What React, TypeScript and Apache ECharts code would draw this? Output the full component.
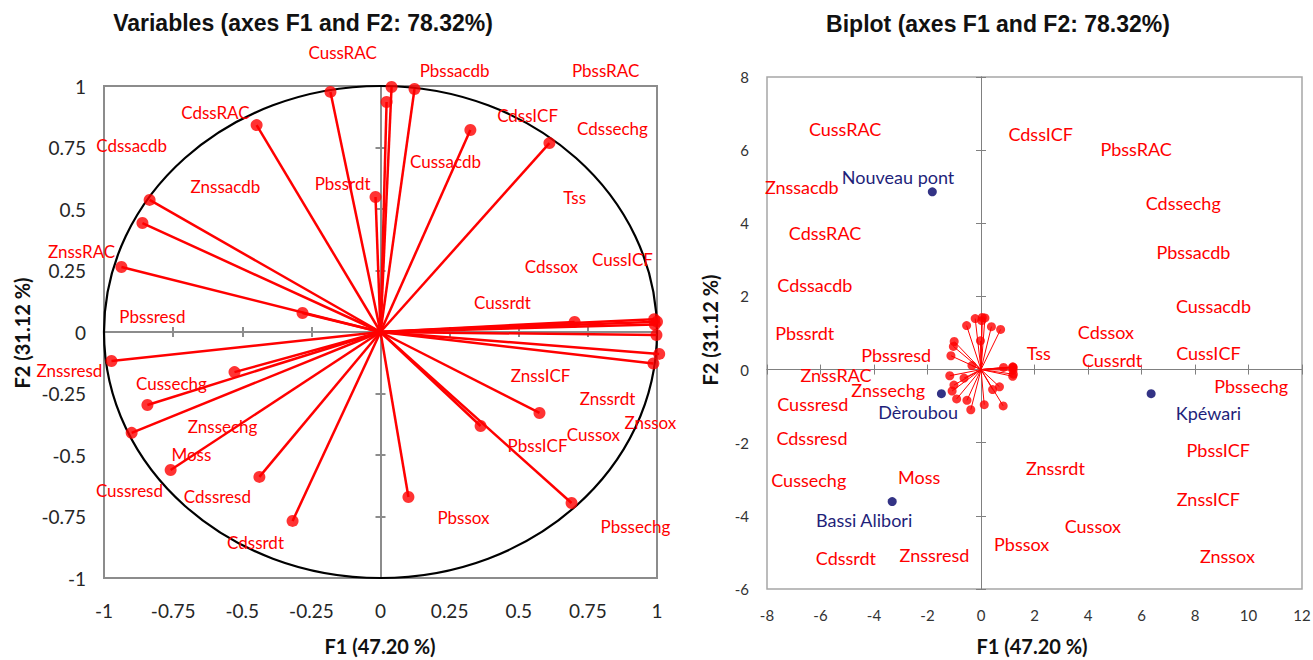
import React, { useEffect, useRef } from "react";
import * as echarts from "echarts";

// ---------- data ----------
const variableNames = [
  "CussRAC", "Pbssacdb", "PbssRAC", "CdssRAC", "Cdssacdb", "CdssICF", "Cdssechg", "Cussacdb",
  "Znssacdb", "Pbssrdt", "Tss", "ZnssRAC", "CussICF", "Cdssox", "Pbssresd", "Cussrdt",
  "Znssresd", "Cussechg", "ZnssICF", "Znssrdt", "Znssechg", "Znssox", "Cussox", "PbssICF",
  "Moss", "Cussresd", "Cdssresd", "Pbssechg", "Pbssox", "Cdssrdt",
];
// label anchors in the correlation circle
const circleLabelF1 = [
  -0.137, 0.268, 0.814, -0.597, -0.9, 0.532, 0.839, 0.235,
  -0.561, -0.137, 0.702, -1.081, 0.875, 0.618, -0.825, 0.441,
  -1.125, -0.756, 0.579, 0.821, -0.571, 0.976, 0.77, 0.568,
  -0.684, -0.908, -0.59, 0.922, 0.3, -0.452,
];
const circleLabelF2 = [
  1.138, 1.061, 1.065, 0.894, 0.76, 0.882, 0.829, 0.695,
  0.593, 0.602, 0.545, 0.329, 0.293, 0.268, 0.065, 0.118,
  -0.155, -0.211, -0.175, -0.272, -0.386, -0.366, -0.415, -0.463,
  -0.496, -0.646, -0.667, -0.789, -0.756, -0.854,
];
// label anchors in the biplot
const biplotLabelF1 = [
  -5.08, 7.94, 5.8, -5.83, -6.21, 2.23, 7.56, 8.69,
  -6.7, -6.59, 2.16, -5.42, 8.5, 4.67, -3.17, 4.9,
  -1.74, -6.44, 8.5, 2.78, -3.47, 9.21, 4.18, 8.87,
  -2.31, -6.29, -6.32, 10.1, 1.52, -5.05,
];
const biplotLabelF2 = [
  6.58, 3.22, 6.04, 3.74, 2.3, 6.45, 4.56, 1.75,
  5.0, 1.01, 0.44, -0.16, 0.46, 1.04, 0.41, 0.27,
  -5.08, -3.01, -3.55, -2.7, -0.57, -5.11, -4.29, -2.21,
  -2.95, -0.93, -1.86, -0.44, -4.78, -5.14,
];
// variable vectors (correlations with F1 / F2)
const loadingF1 = [
  -0.181, 0.04, 0.022, 0.123, 0.325, 0.611, -0.448, -0.018,
  -0.835, -0.861, -0.937, -0.282, -0.973, -0.528, -0.843, -0.9,
  -0.759, -0.438, -0.318, 0.101, 0.362, 0.575, 0.691, 0.702,
  0.99, 1.0, 0.992, 0.998, 1.008, 0.987,
];
const loadingF2 = [
  0.976, 0.996, 0.935, 0.988, 0.821, 0.768, 0.841, 0.549,
  0.537, 0.443, 0.264, 0.077, -0.118, -0.163, -0.297, -0.41,
  -0.561, -0.589, -0.768, -0.671, -0.382, -0.329, -0.695, 0.041,
  0.052, 0.042, 0.03, -0.012, -0.089, -0.128,
];
// biplot scaling coefficients of the vectors
const biplotScaleF1 = 1.2;
const biplotScaleF2 = 1.43;

const observationNames = ["Nouveau pont", "Dèroubou", "Kpéwari", "Bassi Alibori"];
const observationF1 = [-1.82, -1.48, 6.36, -3.32];
const observationF2 = [4.86, -0.66, -0.66, -3.61];
const observationLabelF1 = [-3.1, -2.35, 8.5, -4.37];
const observationLabelF2 = [5.27, -1.15, -1.2, -4.1];

const circleAxis = { min: -1, max: 1, interval: 0.25 };
const biplotAxisF1 = { min: -8, max: 12, interval: 2 };
const biplotAxisF2 = { min: -6, max: 8, interval: 2 };

const titleLeft = "Variables (axes F1 and F2: 78.32%)";
const titleRight = "Biplot (axes F1 and F2: 78.32%)";
const nameF1 = "F1 (47.20 %)";
const nameF2 = "F2 (31.12 %)";

// ---------- helpers ----------
const FONT = "Lato, 'Noto Sans', sans-serif";
const TITLE_FONT = "'Liberation Sans', Arial, sans-serif";

function labelAxis(gridIndex: number, r: any, fontSize: number, margin: number, color: string) {
  return {
    type: "value",
    gridIndex,
    min: r.min,
    max: r.max,
    interval: r.interval,
    axisLine: { show: false, onZero: false },
    axisTick: { show: false },
    splitLine: { show: false },
    axisLabel: { fontFamily: FONT, fontSize, color, margin, hideOverlap: false, showMinLabel: true, showMaxLabel: true },
  };
}
function zeroAxis(gridIndex: number, r: any, other: number, inside: boolean, color: string, width: number, pos: string) {
  return {
    type: "value",
    gridIndex,
    position: pos,
    min: r.min,
    max: r.max,
    interval: r.interval,
    axisLine: { show: true, onZero: true, onZeroAxisIndex: other, lineStyle: { color, width } },
    axisTick: { show: true, inside, length: 5, lineStyle: { color, width } },
    axisLabel: { show: false },
    splitLine: { show: false },
  };
}

export default function App() {
  const ref = useRef<HTMLDivElement>(null);
  useEffect(() => {
    document.body.style.margin = "0";
    if (!ref.current) return;
    const chart = echarts.init(ref.current, null, { renderer: "svg" });

    const vectorData = loadingF1.map((v, i) => [v, loadingF2[i]]);
    const biVectorData = loadingF1.map((v, i) => [v * biplotScaleF1, loadingF2[i] * biplotScaleF2]);
    const circleLabelData = circleLabelF1.map((v, i) => [v, circleLabelF2[i]]);
    const biLabelData = biplotLabelF1.map((v, i) => [v, biplotLabelF2[i]]);
    const obsData = observationF1.map((v, i) => [v, observationF2[i]]);
    const obsLabelData = observationLabelF1.map((v, i) => [v, observationLabelF2[i]]);

    const lineItem = (stroke: string, w: number) => (params: any, api: any) => {
      const o = api.coord([0, 0]);
      const p = api.coord([api.value(0), api.value(1)]);
      return { type: "line", shape: { x1: o[0], y1: o[1], x2: p[0], y2: p[1] }, style: { stroke, lineWidth: w } };
    };
    const textItem = (names: string[], fill: string, size: number) => (params: any, api: any) => {
      const p = api.coord([api.value(0), api.value(1)]);
      return {
        type: "text",
        x: p[0],
        y: p[1],
        style: { text: names[params.dataIndex], fill, fontSize: size, fontFamily: FONT, align: "center", verticalAlign: "middle" },
      };
    };
    const textStyle = (text: string, size: number, family: string) => ({
      text, fill: "#111111", fontSize: size, fontWeight: "bold", fontFamily: family, align: "center", verticalAlign: "middle",
    });

    const option: any = {
      animation: false,
      backgroundColor: "#ffffff",
      grid: [
        { left: 104, top: 86, width: 553, height: 492, show: true, borderColor: "#8c8c8c", borderWidth: 2, containLabel: false, outerBoundsMode: "none" },
        { left: 767, top: 77, width: 535, height: 512, show: true, borderColor: "#a6a6a6", borderWidth: 1.5, containLabel: false, outerBoundsMode: "none" },
      ],
      xAxis: [
        { ...labelAxis(0, circleAxis, 19, 23, "#262626"), position: "bottom" },
        zeroAxis(0, circleAxis, 0, true, "#8c8c8c", 2, "bottom"),
        zeroAxis(0, circleAxis, 0, false, "#8c8c8c", 2, "bottom"),
        { ...labelAxis(1, biplotAxisF1, 15, 18, "#333333"), position: "bottom" },
        zeroAxis(1, biplotAxisF1, 3, true, "#808080", 1, "bottom"),
        zeroAxis(1, biplotAxisF1, 3, false, "#808080", 1, "bottom"),
      ],
      yAxis: [
        { ...labelAxis(0, circleAxis, 19, 18, "#262626"), position: "left" },
        zeroAxis(0, circleAxis, 0, true, "#8c8c8c", 2, "left"),
        zeroAxis(0, circleAxis, 0, false, "#8c8c8c", 2, "left"),
        { ...labelAxis(1, biplotAxisF2, 15, 18, "#333333"), position: "left" },
        zeroAxis(1, biplotAxisF2, 3, true, "#808080", 1, "left"),
        zeroAxis(1, biplotAxisF2, 3, false, "#808080", 1, "left"),
      ],
      graphic: [
        { type: "text", x: 303, y: 23, style: textStyle(titleLeft, 23, TITLE_FONT) },
        { type: "text", x: 998, y: 24, style: textStyle(titleRight, 23, TITLE_FONT) },
        { type: "text", x: 380, y: 646, style: textStyle(nameF1, 20, FONT) },
        { type: "text", x: 22, y: 333, rotation: Math.PI / 2, style: textStyle(nameF2, 20, FONT) },
        { type: "text", x: 1032, y: 646, style: textStyle(nameF1, 20, FONT) },
        { type: "text", x: 710, y: 330, rotation: Math.PI / 2, style: textStyle(nameF2, 20, FONT) },
      ],
      series: [
        // ---- correlation circle ----
        {
          type: "custom",
          xAxisIndex: 0,
          yAxisIndex: 0,
          z: 1,
          data: [[0, 0]],
          renderItem: (params: any, api: any) => {
            const c = api.coord([0, 0]);
            const s = api.size([1, 1]);
            return { type: "ellipse", shape: { cx: c[0], cy: c[1], rx: s[0], ry: s[1] }, style: { fill: "none", stroke: "#000000", lineWidth: 2.2 } };
          },
        },
        { type: "custom", xAxisIndex: 0, yAxisIndex: 0, z: 2, data: circleLabelData, renderItem: textItem(variableNames, "#ff0000", 17) },
        { type: "custom", xAxisIndex: 0, yAxisIndex: 0, z: 3, data: vectorData, renderItem: lineItem("#ff0000", 2.5) },
        { type: "scatter", xAxisIndex: 0, yAxisIndex: 0, z: 4, clip: false, symbolSize: 12, itemStyle: { color: "#ff0000" }, data: vectorData },
        // ---- biplot ----
        { type: "custom", xAxisIndex: 3, yAxisIndex: 3, z: 2, data: biLabelData, renderItem: textItem(variableNames, "#ff0000", 18) },
        { type: "custom", xAxisIndex: 3, yAxisIndex: 3, z: 3, data: biVectorData, renderItem: lineItem("#ff0000", 1) },
        { type: "scatter", xAxisIndex: 3, yAxisIndex: 3, z: 4, clip: false, symbolSize: 9, itemStyle: { color: "#ff0000" }, data: biVectorData },
        { type: "scatter", xAxisIndex: 3, yAxisIndex: 3, z: 4, clip: false, symbolSize: 9, itemStyle: { color: "#000066" }, data: obsData },
        { type: "custom", xAxisIndex: 3, yAxisIndex: 3, z: 5, data: obsLabelData, renderItem: textItem(observationNames, "#1f1f7a", 18) },
      ],
    };
    chart.setOption(option);
    return () => chart.dispose();
  }, []);
  return <div ref={ref} style={{ width: 1313, height: 660 }} />;
}
